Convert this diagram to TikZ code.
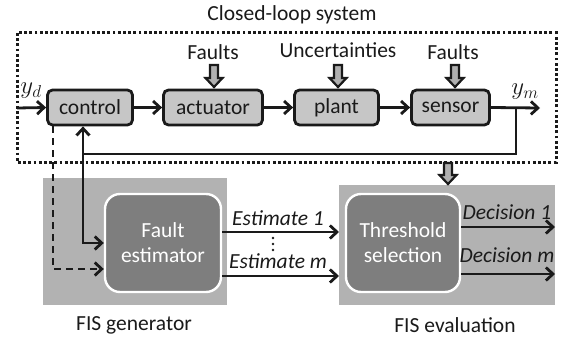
\documentclass[tikz,border=0pt]{standalone}
\usepackage{fontspec}
\setmainfont{Carlito}
\usetikzlibrary{arrows.meta}
\definecolor{ink}{HTML}{1A1A1A}
\definecolor{blockfill}{HTML}{C6C6C6}
\definecolor{panelfill}{HTML}{B2B2B2}
\definecolor{innerfill}{HTML}{7E7E7E}
\definecolor{hollowfill}{HTML}{B0B0B0}
\newcommand{\hdown}[3]{%
  \filldraw[hollowarrow] ({#1-4},#2) -- ({#1+4},#2) -- ({#1+4},{#3-9}) -- ({#1+8.5},{#3-9}) -- (#1,#3) -- ({#1-8.5},{#3-9}) -- ({#1-4},{#3-9}) -- cycle;}
\begin{document}
\begin{tikzpicture}[x=1pt,y=-1pt,
  every node/.style={font=\fontsize{21.5}{25}\selectfont, text=ink},
  block/.style={draw=ink, line width=2.8pt, fill=blockfill, rounded corners=5pt, minimum height=35pt, inner sep=0pt},
  panel/.style={fill=panelfill, draw=none},
  inner/.style={draw=white, line width=2.4pt, fill=innerfill, rounded corners=15pt, inner sep=0pt, minimum height=98pt, text=white, align=center},
  conn/.style={draw=ink, line width=2.8pt},
  arr/.style={conn, -{Straight Barb[length=7pt,width=13pt,line width=2.8pt]}},
  hollowarrow/.style={fill=hollowfill, draw=ink, line width=2.2pt, line join=miter},
  lbl/.style={inner sep=0pt},
  mlbl/.style={inner sep=0pt, font=\fontsize{25}{28}\selectfont},
  ilbl/.style={inner sep=0pt, font=\fontsize{21.5}{25}\selectfont\itshape}
]
\useasboundingbox (0,0) rectangle (563,337);
% panels
\fill[panel] (43,178) rectangle (227,305);
\fill[panel] (339,185) rectangle (555,305);
\coordinate (evalW) at (339,0);
\coordinate (evalE) at (555,0);
% dotted system box
\draw[ink, line width=3pt, dash pattern=on 2.8pt off 2.4pt] (17,33) rectangle (556,162);
\node[lbl] (title) at (292,15) {Closed-loop system};
% blocks
\node[block, minimum width=85pt] (control) at (90,107.5) {control};
\node[block, minimum width=99pt] (actuator) at (213,107.5) {actuator};
\node[block, minimum width=84pt] (plant) at (336.5,107.5) {plant};
\node[block, minimum width=78pt] (sensor) at (450.5,107.5) {sensor};
% disturbance labels
\node[lbl] (f1) at (213,52) {Faults};
\node[lbl] (unc) at (338,50) {Uncertainties};
\node[lbl] (f2) at (453,52) {Faults};
\hdown{214}{65}{87}
\hdown{338}{65}{87}
\hdown{455}{65}{87}
\hdown{448}{163}{184}
% signals
\coordinate (in) at (17,108);
\coordinate (out) at (540,108);
\coordinate (br) at (516,108);
\coordinate (fb) at (83,154);
\coordinate (dd) at (53,269);
\node[mlbl] (yd) at (31,91) {$y_d$};
\node[mlbl] (ym) at (525,92) {$y_m$};
\draw[arr] (in) -- (control.west);
\draw[arr] (control) -- (actuator);
\draw[arr] (actuator) -- (plant);
\draw[arr] (plant) -- (sensor);
\draw[arr] (sensor.east) -- (out);
% lower boxes
\node[inner, minimum width=116pt] (fe) at (163,243) {Fault\\estimator};
\node[inner, minimum width=114pt] (th) at (403,243) {Threshold\\selection};
% feedback
\draw[conn] (br) |- (fb);
\draw[arr] (fb) -- (fb |- control.south);
\draw[arr] (fb) |- (fe.west);
\draw[arr, dash pattern=on 7pt off 5pt] (dd |- control.south) -- (dd) -- (dd -| fe.west);
% estimates
\coordinate (e1) at (0,232);
\coordinate (em) at (0,276);
\coordinate (d1) at (0,227);
\coordinate (dm) at (0,274);
\draw[arr] (fe.east |- e1) -- (evalW |- e1);
\draw[arr] (fe.east |- em) -- (evalW |- em);
\draw[arr] (th.east |- d1) -- (evalE |- d1);
\draw[arr] (th.east |- dm) -- (evalE |- dm);
\node[ilbl] (est1) at (278,218) {Estimate 1};
\node[ilbl] (estm) at (278,261) {Estimate m};
\node[ilbl] (dec1) at (507,212) {Decision 1};
\node[ilbl] (decm) at (507,255) {Decision m};
\foreach \yy in {238,244,250} \fill[ink] (273,\yy) circle (1.3pt);
\node[lbl] (gen) at (134,325) {FIS generator};
\node[lbl] (eval) at (455,325) {FIS evaluation};
\end{tikzpicture}
\end{document}
